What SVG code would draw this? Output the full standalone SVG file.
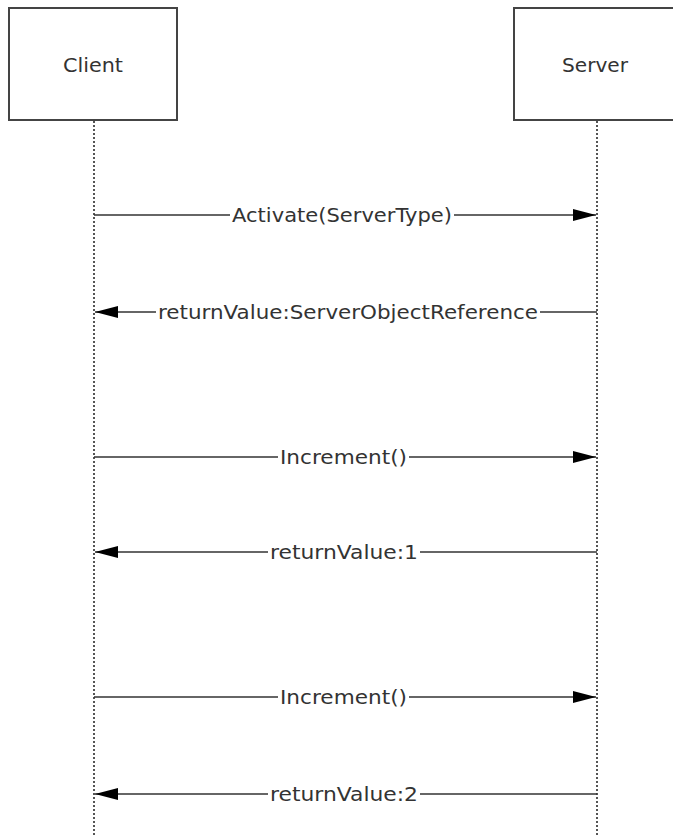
<svg xmlns="http://www.w3.org/2000/svg" width="673" height="837" viewBox="0 0 673 837">
<style>
.box{fill:#fff;stroke:#444;stroke-width:2}
.life{stroke:#555;stroke-width:2;stroke-dasharray:2,2}
.msg{stroke:#333;stroke-width:1.6;fill:none}
.lbl{font-family:"DejaVu Sans",Verdana,sans-serif;font-size:20px;fill:#333}
.bg{fill:#fff}
</style>
<defs>
<marker id="ah" markerWidth="24" markerHeight="14" refX="23" refY="7" orient="auto" markerUnits="userSpaceOnUse">
<path d="M0,1 L23,7 L0,13 Z" fill="#000"/>
</marker>
</defs>
<g id="client">
<rect class="box" x="9" y="8" width="168" height="112"/>
<text class="lbl" x="63" y="72" textLength="60" lengthAdjust="spacingAndGlyphs">Client</text>
</g>
<g id="server">
<rect class="box" x="514" y="8" width="168" height="112"/>
<text class="lbl" x="562" y="72" textLength="66" lengthAdjust="spacingAndGlyphs">Server</text>
</g>
<g id="lifelines">
<line class="life" x1="94" y1="121" x2="94" y2="837"/>
<line class="life" x1="597" y1="121" x2="597" y2="837"/>
</g>
<g id="connectors">
<line class="msg" x1="94" y1="215" x2="596" y2="215" marker-end="url(#ah)"/>
<rect class="bg" x="230" y="203" width="224" height="24"/>
<text class="lbl" x="232" y="222" textLength="220" lengthAdjust="spacingAndGlyphs">Activate(ServerType)</text>
<line class="msg" x1="597" y1="312" x2="95" y2="312" marker-end="url(#ah)"/>
<rect class="bg" x="156" y="300" width="384" height="24"/>
<text class="lbl" x="158" y="319" textLength="380" lengthAdjust="spacingAndGlyphs">returnValue:ServerObjectReference</text>
<line class="msg" x1="94" y1="457" x2="596" y2="457" marker-end="url(#ah)"/>
<rect class="bg" x="278" y="445" width="131" height="24"/>
<text class="lbl" x="280" y="464" textLength="127" lengthAdjust="spacingAndGlyphs">Increment()</text>
<line class="msg" x1="597" y1="552" x2="95" y2="552" marker-end="url(#ah)"/>
<rect class="bg" x="268" y="540" width="152" height="24"/>
<text class="lbl" x="270" y="559" textLength="148" lengthAdjust="spacingAndGlyphs">returnValue:1</text>
<line class="msg" x1="94" y1="697" x2="596" y2="697" marker-end="url(#ah)"/>
<rect class="bg" x="278" y="685" width="131" height="24"/>
<text class="lbl" x="280" y="704" textLength="127" lengthAdjust="spacingAndGlyphs">Increment()</text>
<line class="msg" x1="597" y1="794" x2="95" y2="794" marker-end="url(#ah)"/>
<rect class="bg" x="268" y="782" width="152" height="24"/>
<text class="lbl" x="270" y="801" textLength="148" lengthAdjust="spacingAndGlyphs">returnValue:2</text>
</g>
</svg>
